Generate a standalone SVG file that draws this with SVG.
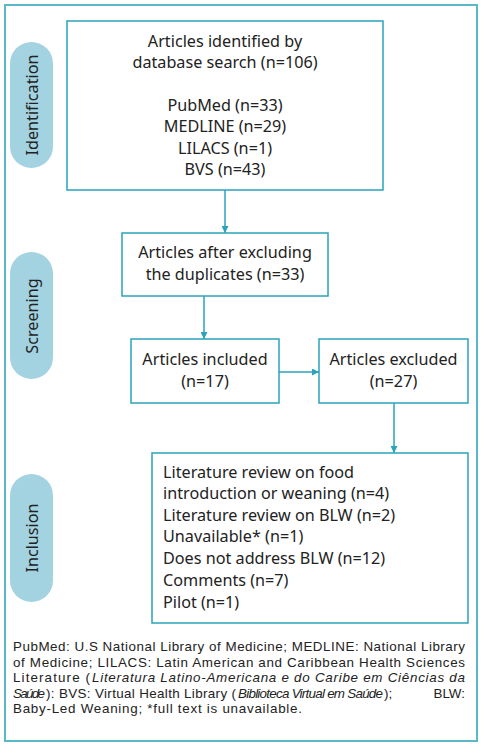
<svg xmlns="http://www.w3.org/2000/svg" width="483" height="745" viewBox="0 0 483 745">
<style>
.box{fill:#fff;stroke:#2ba3bd;stroke-width:1.5}
.pill{fill:#a3d2e0}
.t{font-family:"Noto Sans","Liberation Sans",sans-serif;font-size:16.2px;fill:#222}
.c{text-anchor:middle}
.f{font-family:"Liberation Sans",Arial,sans-serif;font-size:13.4px;fill:#222}
.i{font-style:italic}
.e{text-anchor:end}
.conn{stroke:#2ba3bd;stroke-width:1.5;fill:none;marker-end:url(#ah)}
</style>
<defs>
<marker id="ah" viewBox="0 0 10 10" refX="10" refY="5" markerWidth="7" markerHeight="7" markerUnits="userSpaceOnUse" orient="auto">
<path d="M0,0 L10,5 L0,10 z" fill="#2ba3bd"/>
</marker>
</defs>
<rect x="0" y="0" width="483" height="745" fill="#fff"/>
<rect x="5" y="5" width="472" height="736" fill="none" stroke="#5bb8c8" stroke-width="2"/>
<g id="pill-identification">
<rect class="pill" x="10" y="42" width="43" height="126" rx="21.5"/>
<text class="t c" transform="translate(38,105) rotate(-90)">Identification</text>
</g>
<g id="pill-screening">
<rect class="pill" x="10" y="252" width="43" height="127" rx="21.5"/>
<text class="t c" transform="translate(38,316) rotate(-90)">Screening</text>
</g>
<g id="pill-inclusion">
<rect class="pill" x="10" y="474" width="43" height="128" rx="21.5"/>
<text class="t c" transform="translate(38,538) rotate(-90)">Inclusion</text>
</g>
<g id="connectors">
<line class="conn" x1="225" y1="190" x2="225" y2="233"/>
<line class="conn" x1="204" y1="296" x2="204" y2="339"/>
<line class="conn" x1="279" y1="372" x2="319" y2="372"/>
<line class="conn" x1="394" y1="403" x2="394" y2="453"/>
</g>
<g id="box-identified">
<rect class="box" x="67" y="21" width="316" height="169"/>
<text class="t c" x="225" y="47">Articles identified by</text>
<text class="t c" x="225" y="68">database search (n=106)</text>
<text class="t c" x="225" y="111">PubMed (n=33)</text>
<text class="t c" x="225" y="132">MEDLINE (n=29)</text>
<text class="t c" x="225" y="154">LILACS (n=1)</text>
<text class="t c" x="225" y="175">BVS (n=43)</text>
</g>
<g id="box-duplicates">
<rect class="box" x="122" y="233" width="206" height="63"/>
<text class="t c" x="225" y="258">Articles after excluding</text>
<text class="t c" x="225" y="280">the duplicates (n=33)</text>
</g>
<g id="box-included">
<rect class="box" x="131" y="339" width="148" height="64"/>
<text class="t c" x="205" y="365">Articles included</text>
<text class="t c" x="205" y="387">(n=17)</text>
</g>
<g id="box-excluded">
<rect class="box" x="319" y="339" width="149" height="64"/>
<text class="t c" x="393.5" y="365">Articles excluded</text>
<text class="t c" x="393.5" y="387">(n=27)</text>
</g>
<g id="box-reasons">
<rect class="box" x="152" y="453" width="316" height="170"/>
<text class="t" x="163" y="478">Literature review on food</text>
<text class="t" x="163" y="499">introduction or weaning (n=4)</text>
<text class="t" x="163" y="521">Literature review on BLW (n=2)</text>
<text class="t" x="163" y="542">Unavailable* (n=1)</text>
<text class="t" x="163" y="564">Does not address BLW (n=12)</text>
<text class="t" x="163" y="586">Comments (n=7)</text>
<text class="t" x="163" y="608">Pilot (n=1)</text>
</g>
<g id="footnote">
<text class="f" x="13" y="651" textLength="452" lengthAdjust="spacing">PubMed: U.S National Library of Medicine; MEDLINE: National Library</text>
<text class="f" x="13" y="667" textLength="452" lengthAdjust="spacing">of Medicine; LILACS: Latin American and Caribbean Health Sciences</text>
<text class="f" x="13" y="682" textLength="77" lengthAdjust="spacing">Literature (</text>
<text class="f i" x="92" y="682" textLength="373" lengthAdjust="spacing">Literatura Latino-Americana e do Caribe em Ciências da</text>
<text class="f i" x="13" y="698" textLength="32" lengthAdjust="spacing">Saúde</text>
<text class="f" x="46" y="698" textLength="190" lengthAdjust="spacing">): BVS: Virtual Health Library (</text>
<text class="f i" x="238" y="698" textLength="145" lengthAdjust="spacing">Biblioteca Virtual em Saúde</text>
<text class="f" x="384" y="698">);</text>
<text class="f e" x="465" y="698">BLW:</text>
<text class="f" x="13" y="713" textLength="289" lengthAdjust="spacing">Baby-Led Weaning; *full text is unavailable.</text>
</g>
</svg>
